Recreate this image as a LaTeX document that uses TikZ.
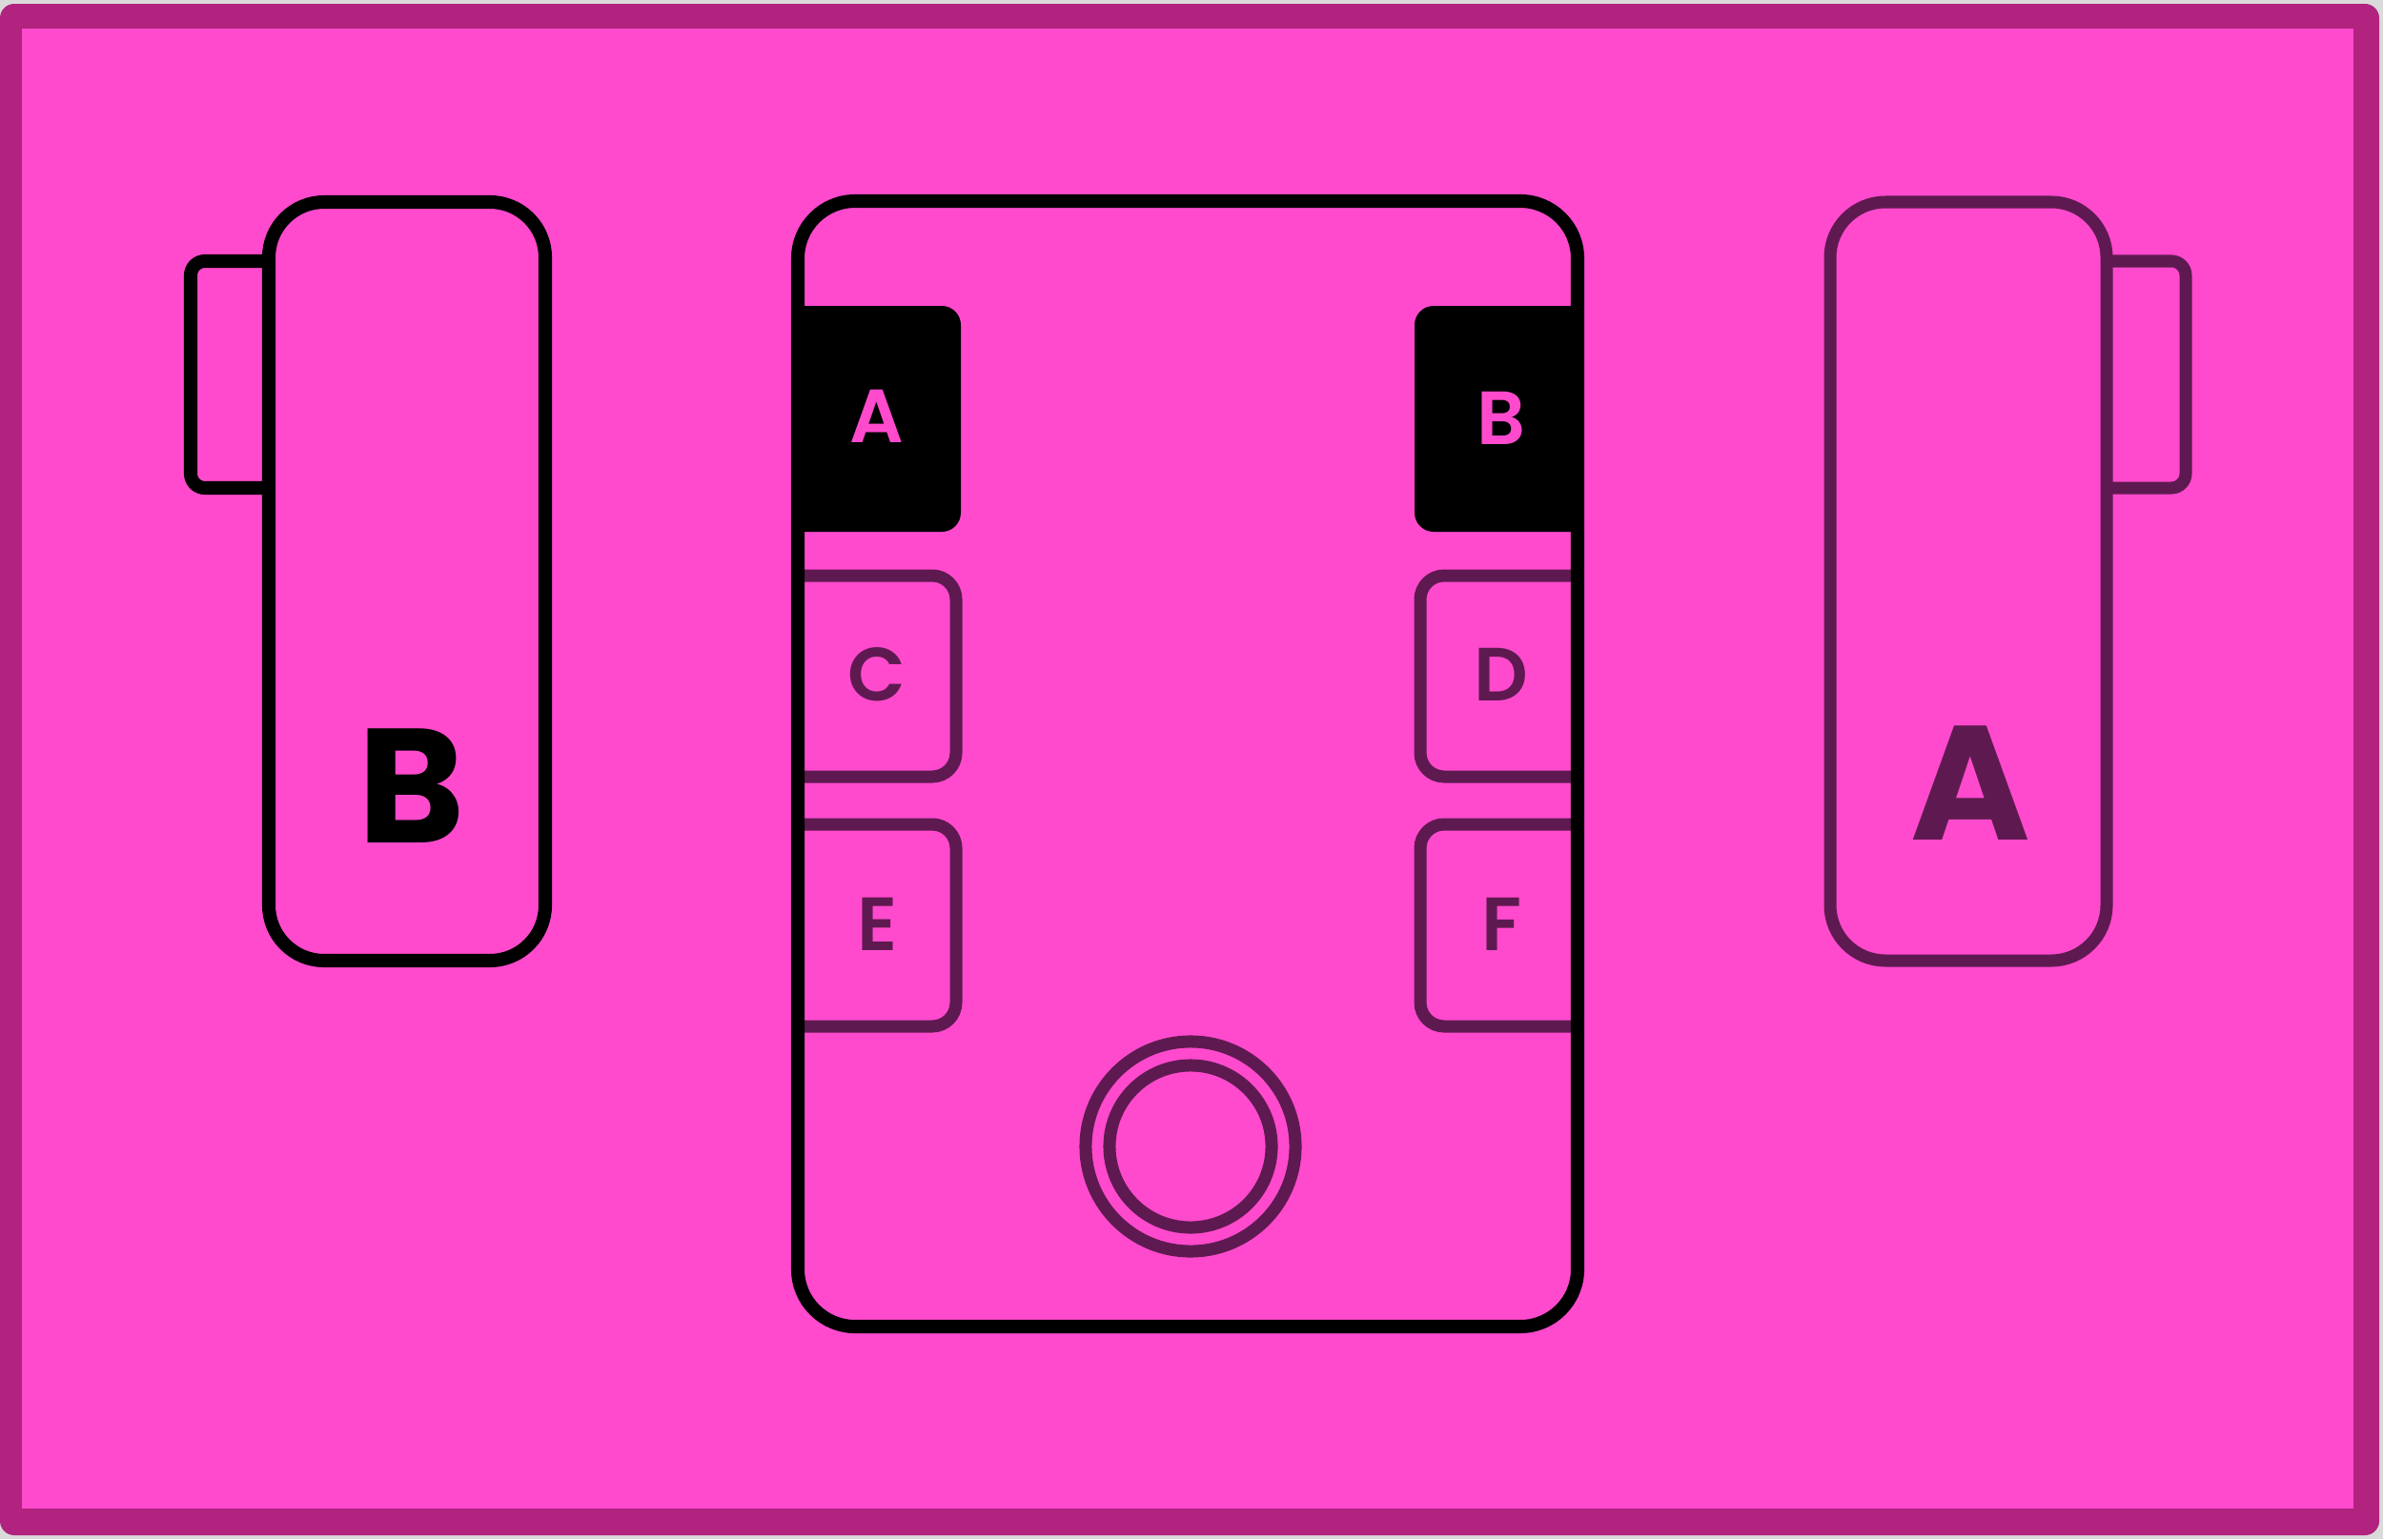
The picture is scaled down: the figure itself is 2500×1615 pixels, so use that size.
\documentclass[tikz,border=0pt]{standalone}
\usepackage{fontspec}
\newfontfamily\popfont{Poppins}
\newfontfamily\popsemi{Poppins SemiBold}
\definecolor{bgpink}{HTML}{FF4ACD}
\definecolor{framemag}{HTML}{B1237F}
\definecolor{darkpurp}{HTML}{5E1A50}
\definecolor{outgray}{HTML}{DADADA}
\begin{document}
\begin{tikzpicture}[x=0.01cm,y=0.01cm,
  blackline/.style={draw=black,line width=4pt},
  purpline/.style={draw=darkpurp,line width=3.7pt},
  bigletter/.style={inner sep=0pt,font=\popfont\bfseries\fontsize{48.5}{50}\selectfont},
  smallletter/.style={inner sep=0pt,font=\popsemi\fontsize{22.5}{24}\selectfont}]
% canvas and frame
\fill[outgray] (0,0) rectangle (2500,-1615);
\useasboundingbox (0,0) rectangle (2500,-1615);
\fill[framemag,rounded corners=0.15cm] (0,-4) rectangle (2496,-1611);
\fill[bgpink] (23,-30) rectangle (2469,-1583);
% left device (B)
\draw[blackline,fill=bgpink,rounded corners=0.15cm] (200,-274) rectangle (340,-512);
\draw[blackline,fill=bgpink,rounded corners=0.58cm] (282,-212) rectangle (572,-1008);
\node[bigletter,text=black] (bigB) at (432,-825) {B};
% right device (A)
\draw[purpline,fill=bgpink,rounded corners=0.15cm] (2150,-274) rectangle (2293,-512);
\draw[purpline,fill=bgpink,rounded corners=0.58cm] (1920,-212) rectangle (2210,-1008);
\node[bigletter,text=darkpurp] (bigA) at (2067,-822) {A};
% central device
\fill[bgpink,rounded corners=0.6cm] (837,-211) rectangle (1655,-1392);
\fill[black] (837,-321) -- (988,-321) arc[start angle=90,end angle=0,radius=0.2cm]
  -- (1008,-538) arc[start angle=0,end angle=-90,radius=0.2cm] -- (837,-558) -- cycle;
\fill[black] (1655,-321) -- (1504,-321) arc[start angle=90,end angle=180,radius=0.2cm]
  -- (1484,-538) arc[start angle=180,end angle=270,radius=0.2cm] -- (1655,-558) -- cycle;
\draw[purpline] (837,-604) -- (978,-604) arc[start angle=90,end angle=0,radius=0.25cm]
  -- (1003,-790) arc[start angle=0,end angle=-90,radius=0.25cm] -- (837,-815);
\draw[purpline] (837,-865) -- (978,-865) arc[start angle=90,end angle=0,radius=0.25cm]
  -- (1003,-1052) arc[start angle=0,end angle=-90,radius=0.25cm] -- (837,-1077);
\draw[purpline] (1655,-604) -- (1515,-604) arc[start angle=90,end angle=180,radius=0.25cm]
  -- (1490,-790) arc[start angle=180,end angle=270,radius=0.25cm] -- (1655,-815);
\draw[purpline] (1655,-865) -- (1515,-865) arc[start angle=90,end angle=180,radius=0.25cm]
  -- (1490,-1052) arc[start angle=180,end angle=270,radius=0.25cm] -- (1655,-1077);
\draw[purpline] (1249,-1203) circle[radius=1.10cm];
\draw[purpline] (1249,-1203) circle[radius=0.85cm];
\draw[blackline,rounded corners=0.6cm] (837,-211) rectangle (1655,-1392);
\node[smallletter,text=bgpink] (btnA) at (920,-437) {A};
\node[smallletter,text=bgpink] (btnB) at (1575,-439) {B};
\node[smallletter,text=darkpurp] (btnC) at (920,-708) {C};
\node[smallletter,text=darkpurp] (btnD) at (1575,-708) {D};
\node[smallletter,text=darkpurp] (btnE) at (921,-970) {E};
\node[smallletter,text=darkpurp] (btnF) at (1575,-970) {F};
\end{tikzpicture}
\end{document}
